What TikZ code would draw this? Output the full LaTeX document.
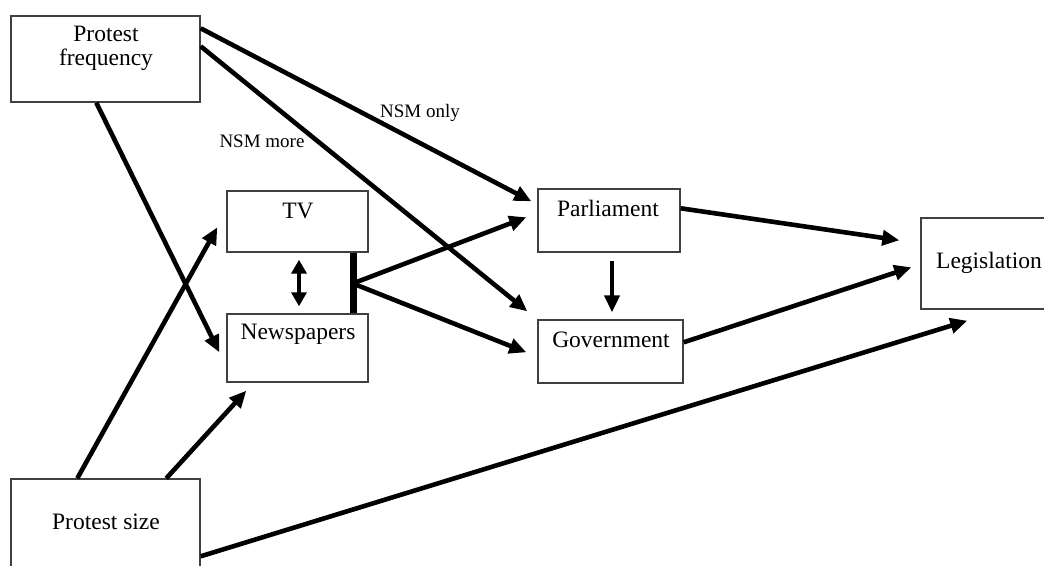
\documentclass[tikz,border=0pt]{standalone}
\usepackage{fontspec}
\setmainfont{Liberation Serif}
\usetikzlibrary{arrows.meta,calc}
\begin{document}
\begin{tikzpicture}[x=1pt,y=-1pt,
 box/.style={draw=black!75, line width=1.4pt, inner sep=0pt},
 lbl/.style={font=\fontsize{23.5}{27}\selectfont, inner sep=0pt, anchor=base},
 note/.style={font=\fontsize{19}{22}\selectfont, inner sep=0pt, anchor=base},
 link/.style={line width=4.6pt, -{Triangle[length=17pt,width=15pt]}},
 dlink/.style={line width=4.6pt, {Triangle[length=14pt,width=15pt]}-{Triangle[length=14pt,width=15pt]}},
]
\useasboundingbox (0,0) rectangle (1044,565);
% boxes
\node[box, minimum width=189pt, minimum height=86pt] (freq) at (105.5,59) {};
\node[box, minimum width=141pt, minimum height=61pt] (tv) at (297.5,221.5) {};
\node[box, minimum width=141pt, minimum height=68pt] (news) at (297.5,348) {};
\node[box, minimum width=142pt, minimum height=63pt] (parl) at (609,220.5) {};
\node[box, minimum width=145pt, minimum height=63pt] (gov) at (610.5,351.5) {};
\node[box, minimum width=128pt, minimum height=91pt] (legis) at (985,263.5) {};
\node[box, minimum width=189pt, minimum height=96pt] (size) at (105.5,527) {};
% texts
\node[lbl] (freqt1) at (106,41) {Protest};
\node[lbl] (freqt2) at (106,65) {frequency};
\node[lbl] (tvt) at (298,218) {TV};
\node[lbl] (newst) at (298,339) {Newspapers};
\node[lbl] (parlt) at (608,216) {Parliament};
\node[lbl] (govt) at (611,347) {Government};
\node[lbl] (legist) at (989,268) {Legislation};
\node[lbl] (sizet) at (106,529) {Protest size};
\node[note] (nsmonly) at (420,117) {NSM only};
\node[note] (nsmmore) at (262,147) {NSM more};
% bar
\coordinate (bartop) at ($(tv.south east)+(-15,0)$);
\coordinate (barbot) at ($(news.north east)+(-15,0)$);
\draw[line width=7pt] (bartop) -- (barbot);
\coordinate (barmid) at ($(bartop)!0.5!(barbot)+(3,-1)$);
% connectors
\draw[link] ($(freq.north east)+(0,13)$) -- ($(parl.north west)+(-6,13)$);
\draw[link] ($(freq.north east)+(0,31)$) -- ($(gov.north west)+(-10,-8)$);
\draw[link] ($(freq.south west)+(86,0)$) -- ($(news.north west)+(-7,39)$);
\draw[link] ($(size.north west)+(67,0)$) -- ($(tv.north west)+(-9,37)$);
\draw[link] ($(size.north west)+(156,0)$) -- ($(news.south west)+(20,8)$);
\draw[link] ($(size.north east)+(0,78)$) -- ($(legis.south west)+(47,11)$);
\draw[link] (barmid) -- ($(parl.north west)+(-11,29)$);
\draw[link] ($(barmid)+(0,3)$) -- ($(gov.north west)+(-11,33)$);
\draw[dlink] ($(tv.south)+(1.5,7)$) -- ($(news.north)+(1.5,-7)$);
\draw[link] ($(parl.south)+(3,8)$) -- ($(gov.north)+(1.5,-7)$);
\draw[link] ($(parl.north east)+(0,20)$) -- ($(legis.north west)+(-21,23)$);
\draw[link] ($(gov.north east)+(0,23)$) -- ($(legis.north west)+(-9,50)$);
\end{tikzpicture}
\end{document}
